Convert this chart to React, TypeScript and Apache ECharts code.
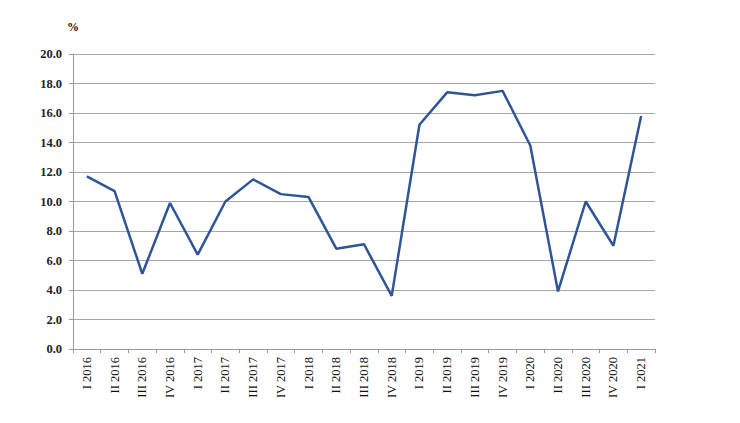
import React, { useEffect, useRef } from "react";
import * as echarts from "echarts";

const categories = [
  "I 2016", "II 2016", "III 2016", "IV 2016",
  "I 2017", "II 2017", "III 2017", "IV 2017",
  "I 2018", "II 2018", "III 2018", "IV 2018",
  "I 2019", "II 2019", "III 2019", "IV 2019",
  "I 2020", "II 2020", "III 2020", "IV 2020",
  "I 2021",
];
const values = [
  11.7, 10.7, 5.1, 9.9,
  6.4, 10.0, 11.5, 10.5,
  10.3, 6.8, 7.1, 3.6,
  15.2, 17.4, 17.2, 17.5,
  13.8, 3.9, 10.0, 7.0,
  15.8,
];
const unitLabel = "%";

export default function App() {
  const ref = useRef<HTMLDivElement>(null);
  useEffect(() => {
    if (!ref.current) return;
    const chart = echarts.init(ref.current, null, { renderer: "svg" });
    const font = "'Liberation Serif', 'DejaVu Serif', serif";
    chart.setOption({
      animation: false,
      backgroundColor: "#ffffff",
      grid: { left: 65, right: 93, top: 46, bottom: 82, containLabel: false },
      graphic: [
        {
          type: "text",
          left: 59,
          top: 13,
          style: { text: unitLabel, font: `bold 12px ${font}`, fill: "#111" },
        },
      ],
      xAxis: {
        type: "category",
        data: categories,
        boundaryGap: true,
        axisLine: { show: true, lineStyle: { color: "#999", width: 1 } },
        axisTick: { show: true, alignWithLabel: false, length: 4, lineStyle: { color: "#999" } },
        axisLabel: {
          rotate: 90,
          interval: 0,
          margin: 8,
          fontFamily: font,
          fontSize: 12.5,
          color: "#111",
        },
        splitLine: { show: false },
      },
      yAxis: {
        type: "value",
        min: 0,
        max: 20,
        interval: 2,
        axisLine: { show: true, lineStyle: { color: "#999", width: 1 } },
        axisTick: { show: true, length: 4, lineStyle: { color: "#999" } },
        axisLabel: {
          formatter: (v: number) => v.toFixed(1),
          fontFamily: font,
          fontSize: 12.5,
          fontWeight: "bold",
          color: "#222",
          margin: 11,
        },
        splitLine: { show: true, lineStyle: { color: "#a6a6a6", width: 1 } },
      },
      series: [
        {
          type: "line",
          data: values,
          symbol: "none",
          lineStyle: { color: "#2f5597", width: 2.5 },
          itemStyle: { color: "#2f5597" },
        },
      ],
    });
    return () => chart.dispose();
  }, []);
  return <div ref={ref} style={{ width: 740, height: 423 }} />;
}
